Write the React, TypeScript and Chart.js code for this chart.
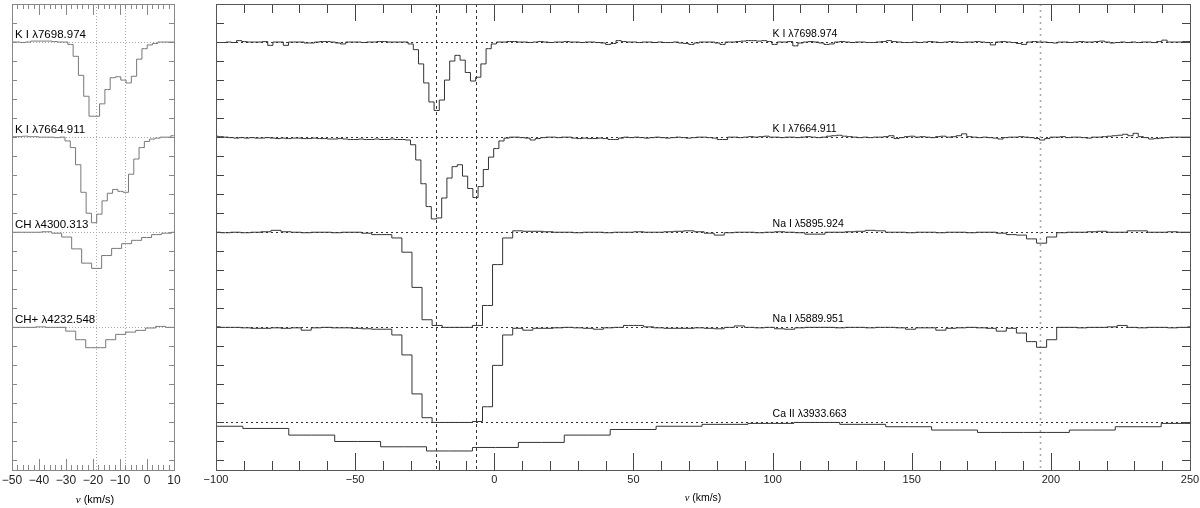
import React, { useEffect, useRef } from "react";
import { Chart, registerables } from "chart.js";

Chart.register(...registerables);

// ---------------- Right panel data (normalised flux per velocity bin) ----------------
// K I 7698.974 : bin centres start at -101.02 km/s, 1.868 km/s bins
const KI7698_R_START = -101.024;
const KI_R_STEP = 1.868;
const KI7698_R = [
  1.0, 0.995, 0.995, 1.0, 0.995, 1.015, 1.005, 1.0, 1.0, 1.0,
  1.005, 0.965, 1.0, 1.0, 0.965, 1.0, 1.0, 1.0, 0.99, 0.99,
  1.0, 1.005, 1.005, 1.0, 0.99, 0.98, 1.0, 1.0, 1.0, 0.995,
  1.0, 1.0, 1.005, 1.005, 1.0, 1.0, 1.0, 1.0,
  0.98, 0.92, 0.77, 0.57, 0.37, 0.28, 0.39, 0.6, 0.8, 0.86, 0.81, 0.68, 0.59, 0.63, 0.77, 0.93, 0.98,
  1.0, 1.0, 1.005, 1.005, 1.0, 1.0, 0.995, 1.0, 1.005, 1.0,
  0.995, 1.0, 1.0, 1.005, 1.0, 1.0, 0.995, 1.0, 1.0, 0.995, 0.99,
  0.975, 0.985, 1.015, 1.005, 1.0, 1.0, 0.995, 1.0, 1.0,
  0.995, 1.0, 0.995, 0.995, 1.0, 0.99, 0.985, 0.975, 0.99, 1.0,
  1.0, 1.0, 0.99, 0.975, 1.0, 1.0, 1.005, 1.01, 1.015, 1.015,
  1.01, 1.015, 1.005, 0.975, 1.0, 1.0, 1.005, 0.96, 0.99, 1.0,
  1.005, 1.0, 0.99, 0.975, 0.98, 1.0, 1.005, 1.0, 0.995, 1.0,
  1.0, 0.995, 0.995, 1.0, 1.005, 1.015, 1.005, 1.0, 0.995, 0.995,
  1.0, 0.995, 1.0, 1.005, 1.0, 0.995, 1.0, 1.005, 1.0, 0.995,
  1.0, 1.0, 1.005, 1.0, 0.995, 0.97, 1.0, 1.005, 1.0, 0.995,
  0.985, 0.975, 1.0, 1.005, 1.0, 1.0, 0.995, 0.99, 1.0, 1.0,
  0.995, 1.0, 1.005, 1.0, 1.0, 1.005, 1.01, 1.0, 0.99, 0.995,
  1.0, 0.995, 1.0, 0.995, 1.0, 1.0, 0.995, 1.005, 1.02, 1.0,
  1.0, 1.0, 1.005, 1.005,
];

// K I 7664.911 : bin centres start at -100.16 km/s
const KI7664_R_START = -100.156;
const KI7664_R = [
  1.01, 1.005, 1.0, 0.995, 0.99, 0.995, 0.99, 0.995, 0.99, 0.99,
  0.995, 0.99, 0.985, 0.99, 0.985, 0.99, 0.99, 0.985, 0.985, 0.99,
  0.985, 0.985, 0.98, 0.98, 0.985, 0.98, 0.975, 0.975, 0.98, 0.975,
  0.975, 0.98, 0.975, 0.975, 0.98, 0.975, 0.975,
  0.97, 0.92, 0.76, 0.51, 0.27, 0.14, 0.15, 0.36, 0.57, 0.69, 0.71, 0.59, 0.46, 0.365, 0.48, 0.66, 0.79, 0.88, 0.96, 0.99,
  1.0, 1.0, 0.995, 0.99, 0.97, 0.985, 0.995, 1.0, 1.0, 0.995,
  1.0, 1.0, 0.99, 0.985, 0.99, 0.985, 0.985, 0.99, 0.985, 0.975,
  0.975, 0.99, 1.0, 0.995, 1.0, 0.995, 0.99, 0.995, 1.0, 0.995,
  0.99, 0.995, 1.0, 0.995, 0.99, 0.995, 1.0, 1.0, 0.995, 0.99,
  0.975, 0.975, 1.0, 1.0, 0.995, 1.0, 1.005, 1.0, 1.005, 1.01,
  1.0, 1.0, 0.995, 1.0, 1.0, 0.995, 1.0, 1.005, 1.0, 0.995,
  1.0, 1.01, 1.015, 1.02, 1.01, 1.005, 1.0, 0.995, 1.0, 0.995,
  1.0, 1.0, 1.005, 1.015, 0.985, 0.995, 1.005, 1.01, 1.0, 1.005,
  1.0, 0.995, 1.005, 1.01, 1.0, 1.005, 1.015, 1.035, 1.005, 1.0,
  0.995, 1.0, 0.995, 0.99, 0.98, 0.995, 1.0, 1.0, 1.005, 1.0,
  0.995, 0.985, 0.97, 0.985, 1.0, 1.0, 1.005, 0.995, 1.0, 1.0,
  0.995, 0.99, 1.0, 1.0, 1.005, 1.01, 1.015, 1.02, 1.03, 1.015,
  1.04, 1.005, 0.995, 0.98, 0.985, 0.99, 0.995, 1.0, 1.0, 1.0,
  1.0, 1.0,
];

// Na I lines : bin centres start at -103.79 km/s, 3.62 km/s bins
const NA_START = -103.79;
const NA_STEP = 3.62;
const NA5895 = [
  1.0, 1.0, 0.995, 1.0, 0.995, 1.0, 1.005, 1.02, 1.005, 1.0,
  0.995, 1.0, 1.0, 0.995, 1.0, 1.0, 0.99,
  0.975, 0.975, 0.94, 0.79, 0.42, 0.08, 0.02, 0.0, 0.0, 0.0, 0.02, 0.23, 0.66, 0.94, 1.015, 1.01,
  1.01, 1.005, 1.0, 1.0, 0.995, 1.0, 1.0, 0.995, 1.0, 1.0,
  1.005, 1.0, 1.0, 1.005, 1.01, 1.015, 1.005, 0.99, 0.97, 0.995,
  1.0, 1.0, 0.995, 1.0, 1.005, 1.0, 0.995, 0.98, 0.98, 1.0,
  1.0, 1.005, 1.01, 1.02, 1.015, 1.0, 1.0, 0.995, 1.0, 1.0,
  0.995, 1.0, 1.0, 0.995, 1.0, 1.0, 0.99, 0.975, 0.97, 0.93,
  0.885, 0.95, 0.995, 1.0, 1.0, 1.005, 1.01, 1.0, 1.0, 1.015,
  1.015, 1.0, 1.0, 1.005, 1.0, 1.0, 1.0,
];
const NA5889 = [
  1.005, 1.005, 1.0, 1.0, 0.995, 0.99, 0.99, 0.995, 0.99, 0.995,
  0.97, 0.995, 1.0, 0.995, 0.995, 0.99, 0.985,
  0.98, 0.98, 0.92, 0.71, 0.3, 0.05, 0.0, 0.0, 0.0, 0.0, 0.01, 0.165, 0.6, 0.92, 0.99, 0.97,
  0.99, 0.99, 0.995, 1.0, 0.995, 0.99, 0.98, 0.995, 1.0, 1.02,
  1.02, 1.005, 0.995, 0.99, 0.99, 0.99, 0.995, 0.99, 0.985, 1.0,
  1.015, 1.0, 0.995, 1.0, 0.985, 0.98, 0.995, 1.0, 1.0, 1.0,
  0.995, 1.0, 1.0, 0.995, 1.0, 1.0, 0.995, 0.98, 0.995, 0.995,
  0.97, 0.99, 0.995, 1.0, 0.995, 0.99, 0.96, 0.99, 0.94, 0.85,
  0.79, 0.87, 1.0, 1.0, 0.995, 1.0, 1.0, 1.005, 1.02, 1.0,
  0.995, 1.0, 1.0, 0.995, 1.0, 1.005, 1.005,
];

// Ca II 3933.663 : bin centres start at -115.1 km/s, 16.5 km/s bins
const CA_START = -115.1;
const CA_STEP = 16.5;
const CA3933 = [
  0.96, 0.96, 0.937, 0.867, 0.8, 0.744, 0.7, 0.737, 0.79, 0.867,
  0.926, 0.96, 0.98, 0.99, 1.0, 0.98, 0.955, 0.92, 0.895, 0.895,
  0.92, 0.955, 0.99, 0.99,
];

// ---------------- Left panel data ----------------
const KI7698_L_START = -51.86;
const KI_L_STEP = 1.96;
const KI7698_L = [
  1.0, 1.0, 1.0, 0.995, 1.0, 1.01, 1.01, 1.01, 1.01, 1.005,
  1.0, 1.0, 0.975, 0.85, 0.65, 0.43, 0.22, 0.22, 0.35, 0.5,
  0.625, 0.635, 0.6, 0.57, 0.64, 0.82, 0.93, 0.97, 0.985, 1.0,
  1.0, 1.0, 1.0,
];
const KI7664_L_START = -52.92;
const KI7664_L = [
  1.0, 1.0, 1.005, 1.005, 1.01, 1.005, 1.005, 1.0, 1.0, 1.0,
  0.995, 1.0, 0.96, 0.89, 0.71, 0.42, 0.2, 0.1, 0.19, 0.33,
  0.41, 0.45, 0.43, 0.42, 0.61, 0.77, 0.89, 0.955, 0.98, 0.99,
  1.0, 1.0, 1.015, 1.0,
];
const CH_L_START = -51.95;
const CH_STEP = 3.7;
const CH4300_L = [
  1.0, 1.0, 1.0, 1.0, 1.005, 0.99, 0.95, 0.825, 0.675, 0.62,
  0.755, 0.83, 0.88, 0.915, 0.945, 0.975, 0.99, 1.0,
];
const CHP_L_START = -54.15;
const CHP4232_L = [
  1.0, 1.0, 1.0, 1.0, 1.005, 1.0, 1.0, 0.96, 0.87, 0.786,
  0.786, 0.87, 0.926, 0.95, 0.968, 0.993, 1.01, 1.0, 1.0,
];

// ---------------- Labels / ticks ----------------
const RIGHT_LABELS = ["K I λ7698.974", "K I λ7664.911", "Na I λ5895.924", "Na I λ5889.951", "Ca II λ3933.663"];
const LEFT_LABELS = ["K I λ7698.974", "K I λ7664.911", "CH λ4300.313", "CH+ λ4232.548"];
const RIGHT_BASELINES = [4.5, 3.5, 2.5, 1.5, 0.5];
const LEFT_BASELINES = [4.5, 3.5, 2.5, 1.5];
const RIGHT_MAJOR_TICKS = [-100, -50, 0, 50, 100, 150, 200, 250];
const LEFT_MAJOR_TICKS = [-50, -40, -30, -20, -10, 0, 10];
const RIGHT_VLINES = [-20.8, -6.5];
const RIGHT_VLINE_FAR = 196;
const LEFT_VLINES = [-19, -8];
const Y_MIN = 0;
const Y_MAX = 4.9;

const SANS = '"Liberation Sans", Arial, Helvetica, sans-serif';
const SERIF = '"Liberation Serif", "DejaVu Serif", serif';

function toPoints(start: number, step: number, flux: number[], offset: number) {
  return flux.map((f, i) => ({ x: start + i * step, y: offset + f }));
}

type Cfg = {
  minorStep: number;
  majorStep: number;
  majorLen: number;
  minorLen: number;
  yLen: number;
  frameColor: string;
  tickColor: string;
  vlines: { v: number; color: string; dash: number[]; width: number }[];
  hlines: number[];
  hColor: string;
  hDash: number[];
  labels: string[];
  labelX: number;
  labelFont: string;
  labelLift: number;
  titleSize: number;
  titleBaseline: number;
  titleCenter: number;
};

function makePlugin(c: Cfg) {
  return {
    id: "decor",
    beforeDatasetsDraw(chart: any) {
      const { ctx, chartArea: a, scales } = chart;
      const x = scales.x;
      const y = scales.y;
      ctx.save();
      ctx.lineWidth = 1;
      ctx.strokeStyle = c.hColor;
      ctx.setLineDash(c.hDash);
      for (const b of c.hlines) {
        const py = Math.round(y.getPixelForValue(b)) + 0.5;
        ctx.beginPath();
        ctx.moveTo(a.left, py);
        ctx.lineTo(a.right, py);
        ctx.stroke();
      }
      for (const l of c.vlines) {
        ctx.strokeStyle = l.color;
        ctx.lineWidth = l.width;
        ctx.setLineDash(l.dash);
        const px = Math.round(x.getPixelForValue(l.v)) + 0.5;
        ctx.beginPath();
        ctx.moveTo(px, a.top);
        ctx.lineTo(px, a.bottom);
        ctx.stroke();
      }
      ctx.restore();
    },
    afterDatasetsDraw(chart: any) {
      const { ctx, chartArea: a, scales } = chart;
      const x = scales.x;
      const y = scales.y;
      ctx.save();
      ctx.setLineDash([]);
      ctx.lineWidth = 1;
      // ticks
      ctx.strokeStyle = c.tickColor;
      ctx.beginPath();
      for (let v = x.min; v <= x.max + 1e-6; v += c.minorStep) {
        const major = Math.abs(v / c.majorStep - Math.round(v / c.majorStep)) < 1e-6;
        const len = major ? c.majorLen : c.minorLen;
        const px = Math.round(x.getPixelForValue(v)) + 0.5;
        ctx.moveTo(px, a.bottom);
        ctx.lineTo(px, a.bottom - len);
        ctx.moveTo(px, a.top);
        ctx.lineTo(px, a.top + len);
      }
      for (let v = 0.1; v < Y_MAX; v += 0.2) {
        const py = Math.round(y.getPixelForValue(v)) + 0.5;
        ctx.moveTo(a.left, py);
        ctx.lineTo(a.left + c.yLen, py);
        ctx.moveTo(a.right, py);
        ctx.lineTo(a.right - c.yLen, py);
      }
      ctx.stroke();
      // frame
      ctx.strokeStyle = c.frameColor;
      ctx.strokeRect(a.left + 0.5, a.top + 0.5, a.right - a.left, a.bottom - a.top);
      // labels
      ctx.fillStyle = "#000";
      ctx.font = c.labelFont;
      ctx.textAlign = "left";
      ctx.textBaseline = "alphabetic";
      c.labels.forEach((t, i) => {
        const py = y.getPixelForValue(c.hlines[i]) - c.labelLift;
        ctx.fillText(t, x.getPixelForValue(c.labelX), py);
      });
      // axis title: italic v + (km/s)
      const f1 = `italic ${c.titleSize}px ${SERIF}`;
      const f2 = `${c.titleSize}px ${SANS}`;
      ctx.font = f1;
      const w1 = ctx.measureText("v").width;
      ctx.font = f2;
      const t2 = " (km/s)";
      const w2 = ctx.measureText(t2).width;
      const x0 = c.titleCenter - (w1 + w2) / 2;
      ctx.font = f1;
      ctx.fillText("v", x0, c.titleBaseline);
      ctx.font = f2;
      ctx.fillText(t2, x0 + w1, c.titleBaseline);
      ctx.restore();
    },
  };
}

function buildChart(
  canvas: HTMLCanvasElement,
  datasets: any[],
  xMin: number,
  xMax: number,
  majorTicks: number[],
  padding: any,
  tickFontSize: number,
  tickPad: number,
  cfg: Cfg
) {
  return new Chart(canvas, {
    type: "line",
    data: { datasets },
    options: {
      responsive: false,
      animation: false,
      devicePixelRatio: 1,
      events: [],
      layout: { padding },
      plugins: { legend: { display: false }, tooltip: { enabled: false } },
      elements: { point: { radius: 0 }, line: { tension: 0 } },
      scales: {
        x: {
          type: "linear",
          min: xMin,
          max: xMax,
          grid: { display: false, drawTicks: false },
          border: { display: false },
          afterBuildTicks: (s: any) => {
            s.ticks = majorTicks.map((v) => ({ value: v }));
          },
          afterFit: (s: any) => {
            s.height = 38;
            s.paddingLeft = 0;
            s.paddingRight = 0;
          },
          ticks: {
            autoSkip: false,
            maxRotation: 0,
            minRotation: 0,
            padding: tickPad,
            color: "#222",
            font: { family: SANS, size: tickFontSize },
            callback: (v: any) => String(v).replace("-", "\u2212"),
          },
        },
        y: { type: "linear", min: Y_MIN, max: Y_MAX, display: false },
      },
    },
    plugins: [makePlugin(cfg) as any],
  });
}

export default function App() {
  const leftRef = useRef<HTMLCanvasElement>(null);
  const rightRef = useRef<HTMLCanvasElement>(null);

  useEffect(() => {
    const ds = (data: any[], color: string) => ({
      data,
      borderColor: color,
      borderWidth: 1,
      pointRadius: 0,
      stepped: "middle",
      fill: false,
    });
    const rc = "#333";
    const lc = "#777";
    const right = buildChart(
      rightRef.current!,
      [
        ds(toPoints(KI7698_R_START, KI_R_STEP, KI7698_R, 3.5), rc),
        ds(toPoints(KI7664_R_START, KI_R_STEP, KI7664_R, 2.5), rc),
        ds(toPoints(NA_START, NA_STEP, NA5895, 1.5), rc),
        ds(toPoints(NA_START, NA_STEP, NA5889, 0.5), rc),
        ds(toPoints(CA_START, CA_STEP, CA3933, -0.5), rc),
      ],
      -100,
      250,
      RIGHT_MAJOR_TICKS,
      { left: 26, right: 10, top: 4, bottom: 0 },
      11,
      3,
      {
        minorStep: 10,
        majorStep: 50,
        majorLen: 17,
        minorLen: 9,
        yLen: 8,
        frameColor: "#555",
        tickColor: "#444",
        vlines: [
          ...RIGHT_VLINES.map((v) => ({ v, color: "#333", dash: [3, 3], width: 1 })),
          { v: RIGHT_VLINE_FAR, color: "#aaa", dash: [2, 4], width: 1.6 },
        ],
        hlines: RIGHT_BASELINES,
        hColor: "#333",
        hDash: [2, 3],
        labels: RIGHT_LABELS,
        labelX: 100,
        labelFont: `10.5px ${SANS}`,
        labelLift: 5,
        titleSize: 10.5,
        titleBaseline: 501,
        titleCenter: 513,
      }
    );
    const left = buildChart(
      leftRef.current!,
      [
        ds(toPoints(KI7698_L_START, KI_L_STEP, KI7698_L, 3.5), lc),
        ds(toPoints(KI7664_L_START, KI_L_STEP, KI7664_L, 2.5), lc),
        ds(toPoints(CH_L_START, CH_STEP, CH4300_L, 1.5), lc),
        ds(toPoints(CHP_L_START, CH_STEP, CHP4232_L, 0.5), lc),
      ],
      -50,
      10,
      LEFT_MAJOR_TICKS,
      { left: 12, right: 16, top: 4, bottom: 0 },
      12,
      3,
      {
        minorStep: 2,
        majorStep: 10,
        majorLen: 11,
        minorLen: 5,
        yLen: 5,
        frameColor: "#888",
        tickColor: "#888",
        vlines: LEFT_VLINES.map((v) => ({ v, color: "#aaa", dash: [1, 2], width: 1 })),
        hlines: LEFT_BASELINES,
        hColor: "#aaa",
        hDash: [1, 2],
        labels: LEFT_LABELS,
        labelX: -48.9,
        labelFont: `11.5px ${SANS}`,
        labelLift: 4.5,
        titleSize: 11,
        titleBaseline: 503,
        titleCenter: 95,
      }
    );
    return () => {
      right.destroy();
      left.destroy();
    };
  }, []);

  return (
    <div style={{ position: "absolute", left: 0, top: 0, width: 1200, height: 508, background: "#fff" }}>
      <canvas ref={leftRef} width={190} height={508} style={{ position: "absolute", left: 0, top: 0 }} />
      <canvas ref={rightRef} width={1010} height={508} style={{ position: "absolute", left: 190, top: 0 }} />
    </div>
  );
}
